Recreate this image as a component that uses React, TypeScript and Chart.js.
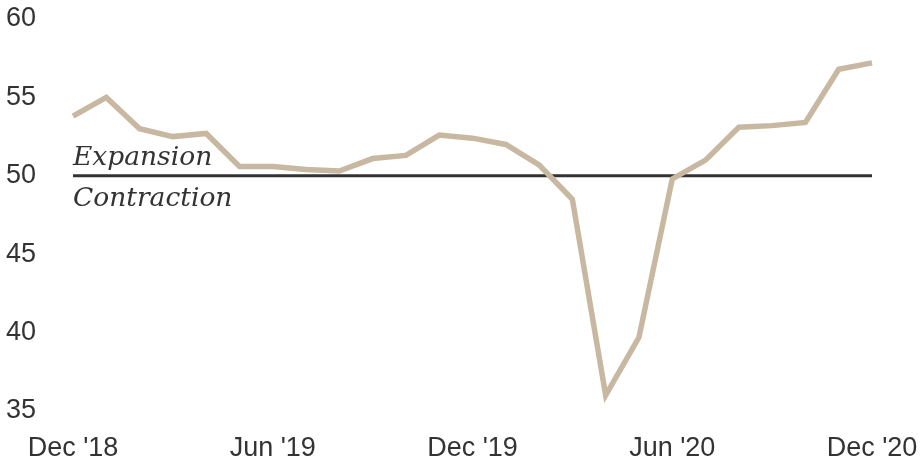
import React, { useEffect, useRef } from "react";
import { Chart, registerables } from "chart.js";

Chart.register(...registerables);

const months = [
  "Dec '18", "Jan '19", "Feb '19", "Mar '19", "Apr '19", "May '19", "Jun '19",
  "Jul '19", "Aug '19", "Sep '19", "Oct '19", "Nov '19", "Dec '19", "Jan '20",
  "Feb '20", "Mar '20", "Apr '20", "May '20", "Jun '20", "Jul '20", "Aug '20",
  "Sep '20", "Oct '20", "Nov '20", "Dec '20",
];
const values = [
  53.8, 55.0, 53.0, 52.5, 52.7, 50.6, 50.6, 50.4, 50.3, 51.1, 51.3, 52.6, 52.4,
  52.0, 50.7, 48.5, 36.0, 39.7, 49.8, 51.0, 53.1, 53.2, 53.4, 56.8, 57.2,
];
const shownLabels = ["Dec '18", "Jun '19", "Dec '19", "Jun '20", "Dec '20"];
const yTicks = [35, 40, 45, 50, 55, 60];
const threshold = 50;
const upperText = "Expansion";
const lowerText = "Contraction";

const thresholdPlugin = {
  id: "threshold",
  beforeDatasetsDraw(chart: any) {
    const { ctx, scales } = chart;
    const x = scales.x;
    const y = scales.y;
    const py = y.getPixelForValue(threshold);
    const x0 = x.getPixelForValue(0);
    const x1 = x.getPixelForValue(months.length - 1);
    ctx.save();
    ctx.strokeStyle = "#333333";
    ctx.lineWidth = 3;
    ctx.beginPath();
    ctx.moveTo(x0, py);
    ctx.lineTo(x1, py);
    ctx.stroke();
    ctx.fillStyle = "#333333";
    ctx.font = "italic 26.5px 'DejaVu Serif'";
    ctx.textAlign = "left";
    ctx.textBaseline = "alphabetic";
    ctx.fillText(upperText, x0, py - 11);
    ctx.fillText(lowerText, x0, py + 30);
    ctx.restore();
  },
};

export default function App() {
  const ref = useRef<HTMLCanvasElement | null>(null);
  useEffect(() => {
    document.body.style.margin = "0";
    const canvas = ref.current;
    if (!canvas) return;
    const chart = new Chart(canvas, {
      type: "line",
      data: {
        labels: months,
        datasets: [
          {
            data: values,
            borderColor: "#c8b8a2",
            borderWidth: 5.5,
            pointRadius: 0,
            tension: 0,
            fill: false,
          },
        ],
      },
      options: {
        animation: false,
        responsive: false,
        maintainAspectRatio: false,
        layout: { padding: { top: 19, left: 6, right: 0, bottom: 0 } },
        plugins: {
          legend: { display: false },
          tooltip: { enabled: false },
        },
        scales: {
          x: {
            grid: { display: false, drawTicks: false },
            border: { display: false },
            ticks: {
              autoSkip: false,
              maxRotation: 0,
              padding: 21,
              color: "#333333",
              font: { family: "'Liberation Sans', Arial", size: 27 },
              callback: (v: any, i: number) =>
                shownLabels.includes(months[i]) ? months[i] : "",
            },
            afterFit: (s: any) => {
              s.height = 50;
              s.paddingRight = 48;
              s.paddingLeft = 0;
            },
          },
          y: {
            min: 35,
            max: 60,
            grid: { display: false, drawTicks: false },
            border: { display: false },
            afterBuildTicks: (s: any) => {
              s.ticks = yTicks.map((v) => ({ value: v }));
            },
            ticks: {
              crossAlign: "far",
              padding: 0,
              color: "#333333",
              font: { family: "'Liberation Sans', Arial", size: 27 },
            },
            afterFit: (s: any) => {
              s.width = 67;
              s.paddingTop = 0;
              s.paddingBottom = 0;
            },
          },
        },
      },
      plugins: [thresholdPlugin],
    });
    return () => chart.destroy();
  }, []);
  return (
    <div style={{ width: 920, height: 461 }}>
      <canvas ref={ref} width={920} height={461} />
    </div>
  );
}
